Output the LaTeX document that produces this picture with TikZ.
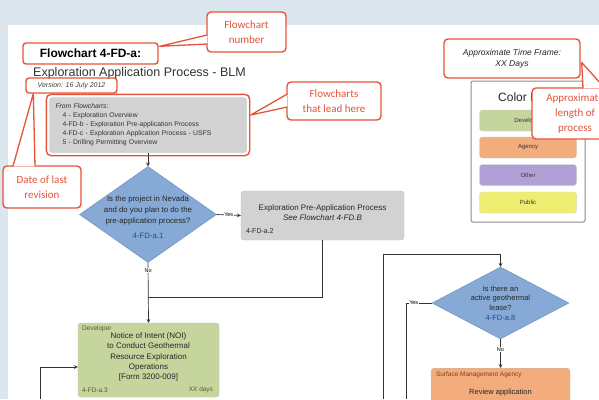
\documentclass[tikz,border=0pt]{standalone}
\usepackage{fontspec}
\setmainfont{Liberation Sans}
\newfontfamily\callfont{Carlito}
\usepackage{tikz}
\usetikzlibrary{arrows, positioning, calc, shapes.geometric}
\definecolor{pagebg}{HTML}{DCE6EE}
\definecolor{callred}{HTML}{E5533B}
\definecolor{boxgray}{HTML}{D2D2D2}
\definecolor{diablue}{HTML}{86AAD5}
\definecolor{diaedge}{HTML}{6A8DB8}
\definecolor{idblue}{HTML}{1F4E8C}
\definecolor{devgreen}{HTML}{C6D59E}
\definecolor{devtext}{HTML}{4F6228}
\definecolor{agyorange}{HTML}{F3AC7B}
\definecolor{agytext}{HTML}{7F3F1F}
\definecolor{othpurple}{HTML}{B1A0D6}
\definecolor{pubyellow}{HTML}{EEEE72}

\begin{document}
\begin{tikzpicture}[x=1pt, y=-1pt,
  flow/.style={->, >=stealth, draw=black!80, line width=0.7pt},
  link/.style={draw=black!80, line width=0.7pt},
  callout/.style={draw=callred, line width=1.4pt, fill=white, rounded corners=4pt,
    text=callred, align=center, font=\callfont\fontsize{11}{15}\selectfont},
  wedge/.style={draw=callred, line width=1.3pt, fill=white, line join=round},
  redframe/.style={draw=callred, line width=1.4pt, rounded corners=3pt, inner sep=0pt},
  graybox/.style={draw=black!25, fill=boxgray, rounded corners=3pt},
  dia/.style={diamond, draw=diaedge, fill=diablue, inner sep=0pt},
  answer/.style={font=\fontsize{5.5}{6}\selectfont, fill=white, inner sep=0.6pt},
  keybox/.style={draw=black!20, rounded corners=3pt, minimum width=97pt,
    minimum height=21pt, font=\fontsize{6}{7}\selectfont, text=black!80}]
\useasboundingbox (0,0) rectangle (599,399);
\clip (0,0) rectangle (599,399);
\fill[pagebg] (0,0) rectangle (599,399);
\fill[white] (8,25) rectangle (599,399);

\node[redframe, minimum width=135pt, minimum height=21pt,
  font=\bfseries\fontsize{12}{14}\selectfont] (ttl) at (90.5,53.5) {Flowchart 4-FD-a:};
\node[anchor=base west, inner sep=0pt, text=black!80,
  font=\fontsize{12.5}{14}\selectfont] (sub) at (33,76) {Exploration Application Process - BLM};
\node[redframe, minimum width=91pt, minimum height=15pt,
  font=\itshape\fontsize{7}{8}\selectfont, text=black!75] (ver) at (71.5,85.5) {Version: 16 July 2012};

\node[graybox, minimum width=197pt, minimum height=55pt, text width=185pt, align=left,
  inner sep=6pt, font=\fontsize{6.8}{9}\selectfont, text=black!80] (fl) at (148,125)
  {\textit{From Flowcharts:}\\
   \hspace*{7pt}4 - Exploration Overview\\
   \hspace*{7pt}4-FD-b - Exploration Pre-application Process\\
   \hspace*{7pt}4-FD-c - Exploration Application Process - USFS\\
   \hspace*{7pt}5 - Drilling Permitting Overview};
\draw[callred, line width=1.4pt, rounded corners=5pt]
  ($(fl.south west)+(-3,3)$) rectangle ($(fl.north east)+(3,-3)$);

\node[callout, minimum width=79pt, minimum height=40pt] (fn) at (246.5,32) {Flowchart\\number};
\filldraw[wedge] ($(fn.west)+(1,3)$) -- ($(ttl.north east)+(1,4)$) -- ($(fn.west)+(1,12)$);
\node[callout, minimum width=94pt, minimum height=38pt] (fh) at (334,101) {Flowcharts\\that lead here};
\filldraw[wedge] ($(fh.west)+(1,-7)$) -- ($(fl.east)+(4,-10)$) -- ($(fh.west)+(1,6)$);
\node[callout, minimum width=78pt, minimum height=42pt] (dr) at (42,187) {Date of last\\revision};
\filldraw[wedge] ($(dr.north)+(-29,1)$) -- ($(ver.south west)+(8,0)$) -- ($(dr.north)+(-7,1)$);

\node[dia, minimum width=137pt, minimum height=96pt] (d1) at (148,214.5) {};
\node[align=center, text=black!85, font=\fontsize{7.8}{10.8}\selectfont] (d1t)
  at ([yshift=-3pt]d1.center) {Is the project in Nevada\\and do you plan to do the\\pre-application process?\\[5pt]\textcolor{idblue}{4-FD-a.1}};
\draw[flow] (fl.south) -- (d1.north);

\node[graybox, minimum width=163pt, minimum height=49pt] (pre) at (322.5,215.5) {};
\node[align=center, text=black!85, font=\fontsize{8}{10}\selectfont] (pret)
  at ([yshift=3pt]pre.center) {Exploration Pre-Application Process\\\textit{See Flowchart 4-FD.B}};
\node[anchor=base west, inner sep=0pt, text=black!85, font=\fontsize{7}{8}\selectfont] (preid)
  at ($(pre.south west)+(5,-7)$) {4-FD-a.2};
\draw[flow] (d1.east) -- node[answer]{Yes} (pre.west);

\node[draw=black!25, fill=devgreen, rounded corners=3pt, minimum width=141pt,
  minimum height=74pt] (dev) at (148.5,360) {};
\node[align=center, text=black!85, font=\fontsize{8}{10.2}\selectfont] (devt) at (148.5,357)
  {Notice of Intent (NOI)\\to Conduct Geothermal\\Resource Exploration\\Operations\\{[Form 3200-009]}};
\node[anchor=north west, inner sep=1pt, text=devtext, font=\fontsize{6.5}{7}\selectfont] (devrole)
  at ($(dev.north west)+(3,2)$) {Developer};
\node[anchor=south west, inner sep=1pt, text=devtext, font=\fontsize{6.5}{7}\selectfont] (devid)
  at ($(dev.south west)+(3,-3)$) {4-FD-a.3};
\node[anchor=south east, inner sep=1pt, text=devtext, font=\fontsize{6.5}{7}\selectfont] (devdays)
  at ($(dev.south east)+(-5,-3)$) {XX days};

\coordinate (j1) at (148,297);
\draw[link] (pre.south) |- (j1);
\draw[flow] (d1.south) -- node[answer, pos=0.13]{No} (dev.north);
\coordinate (inL) at (40,399);
\draw[flow] (inL) |- ([yshift=-7pt]dev.west);

\node[dia, minimum width=137pt, minimum height=72pt] (d2) at (500.5,303) {};
\node[align=center, text=black!85, font=\fontsize{7.5}{9.6}\selectfont] (d2t)
  at (d2.center) {Is there an\\active geothermal\\lease?\\\textcolor{idblue}{4-FD-a.8}};
\node[draw=black!25, fill=agyorange, rounded corners=3pt, minimum width=139pt,
  minimum height=60pt, anchor=north] (sma) at (500.5,368) {};
\node[anchor=north west, inner sep=1pt, text=agytext, font=\fontsize{6.5}{7}\selectfont] (smarole)
  at ($(sma.north west)+(4,3)$) {Surface Management Agency};
\node[anchor=base, inner sep=0pt, text=black!85, font=\fontsize{7.5}{9}\selectfont] (smat)
  at (500.5,394) {Review application};

\coordinate (inR) at (383,399);
\coordinate (k1) at (383,254);
\draw[flow] (inR) -- (k1) -| (d2.north);
\coordinate (outR) at (406,399);
\draw[link] (d2.west) -| node[answer, pos=0.35]{Yes} (outR);
\draw[flow] (d2.south) -- node[answer, pos=0.35]{No} (sma.north);

\node[draw=black!45, line width=1pt, fill=white, rounded corners=2pt, minimum width=114pt,
  minimum height=141pt] (leg) at (528,151.5) {};
\node[anchor=base west, inner sep=0pt, text=black!85, font=\fontsize{12}{14}\selectfont] (legt)
  at (498,101) {Color Key};
\node[keybox, fill=devgreen] (kdev) at (528,120.5) {Developer};
\node[keybox, fill=agyorange] (kagy) at (528,147.5) {Agency};
\node[keybox, fill=othpurple] (koth) at (528,175) {Other};
\node[keybox, fill=pubyellow] (kpub) at (528,202.5) {Public};

\node[callout, minimum width=136pt, minimum height=39pt, text=black!85,
  font=\itshape\fontsize{8.5}{11}\selectfont] (tf) at (512,58.5) {Approximate Time Frame:\\XX Days};
\node[callout, minimum width=86pt, minimum height=51pt] (len) at (575,113.5)
  {Approximate\\length of\\process};
\filldraw[wedge] ($(len.north)+(8,1)$) -- ($(tf.east)+(1,4)$) -- ($(len.north)+(30,1)$);
\end{tikzpicture}
\end{document}
